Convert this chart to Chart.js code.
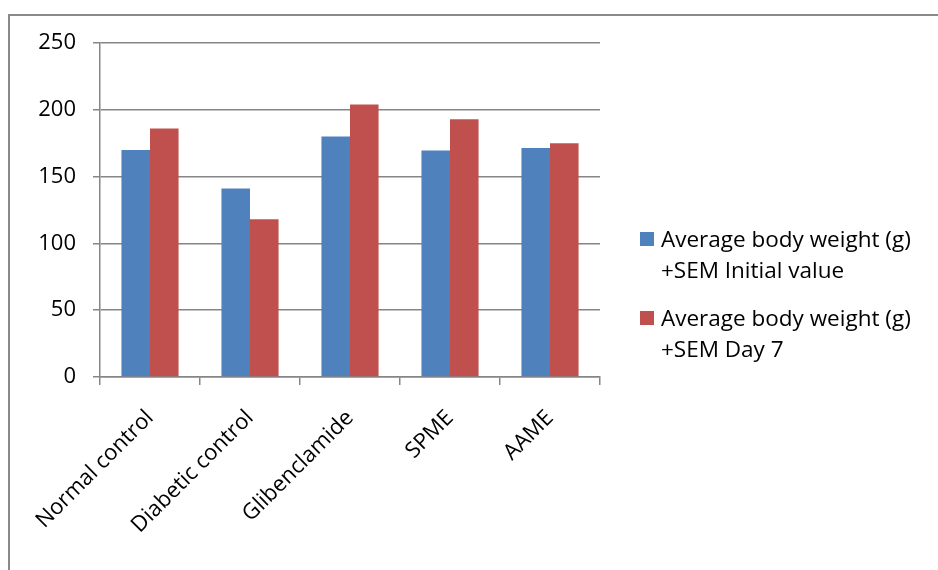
<!DOCTYPE html>
<html>
<head>
<meta charset="utf-8">
<title>Average body weight</title>
<script src="https://cdn.jsdelivr.net/npm/chart.js@4.4.1/dist/chart.umd.min.js"></script>
<style>
    html, body { margin: 0; padding: 0; background: #fff; }
    #wrap { width: 938px; height: 570px; position: relative; }
</style>
</head>
<body>
<div id="wrap"><canvas id="weightChart" width="938" height="570"></canvas></div>
<script>
// 数据
const groups = ['Normal control', 'Diabetic control', 'Glibenclamide', 'SPME', 'AAME'];
const initialValues = [170, 141, 180, 169.5, 171.5];
const day7Values = [186, 118, 204, 193, 175];
const seriesNames = [
    ['Average body weight (g)', '+SEM Initial value'],
    ['Average body weight (g)', '+SEM Day 7']
];
const yTicks = [0, 50, 100, 150, 200, 250];

const FONT = '"Open Sans", "Liberation Sans", sans-serif';
const GRID = '#868686';

// 外框
const framePlugin = {
    id: 'frame',
    beforeDraw(chart) {
        const ctx = chart.ctx;
        ctx.save();
        ctx.strokeStyle = '#8a8a8a';
        ctx.lineWidth = 2;
        ctx.beginPath();
        ctx.moveTo(9, chart.height);
        ctx.lineTo(9, 15);
        ctx.lineTo(chart.width, 15);
        ctx.stroke();
        ctx.restore();
    }
};

// 右侧图例（两行文字）
const legendPlugin = {
    id: 'sideLegend',
    afterDraw(chart) {
        const ctx = chart.ctx;
        ctx.save();
        ctx.font = '22.5px ' + FONT;
        ctx.textBaseline = 'alphabetic';
        ctx.textAlign = 'left';
        chart.data.datasets.forEach((ds, i) => {
            const top = 232 + i * 79;
            ctx.fillStyle = ds.backgroundColor;
            ctx.fillRect(640, top, 14, 14);
            ctx.fillStyle = '#000';
            ds.legendLines.forEach((line, j) => {
                ctx.fillText(line, 661, top + 15 + j * 31);
            });
        });
        ctx.restore();
    }
};

document.addEventListener('DOMContentLoaded', function() {
    initializeWeightChart();
});

function initializeWeightChart() {
    const ctx = document.getElementById('weightChart');

    const data = {
        labels: groups,
        datasets: [{
            label: seriesNames[0].join(' '),
            legendLines: seriesNames[0],
            data: initialValues,
            backgroundColor: '#4F81BD',
            categoryPercentage: 0.571,
            barPercentage: 1.0
        }, {
            label: seriesNames[1].join(' '),
            legendLines: seriesNames[1],
            data: day7Values,
            backgroundColor: '#C0504D',
            categoryPercentage: 0.571,
            barPercentage: 1.0
        }]
    };

    const config = {
        type: 'bar',
        data: data,
        options: {
            responsive: false,
            animation: false,
            layout: {
                padding: { left: 0, top: 43, right: 338, bottom: 0 }
            },
            plugins: {
                legend: { display: false },
                tooltip: { enabled: false }
            },
            scales: {
                x: {
                    offset: true,
                    afterFit(scale) { scale.height = 193; },
                    grid: {
                        offset: true,
                        drawOnChartArea: false,
                        drawTicks: true,
                        tickLength: 8,
                        color: GRID,
                        lineWidth: 1.5
                    },
                    border: { color: GRID, width: 1.5 },
                    ticks: {
                        autoSkip: false,
                        maxRotation: 45,
                        minRotation: 45,
                        padding: 20,
                        color: '#000',
                        font: { family: FONT, size: 22 }
                    }
                },
                y: {
                    min: 0,
                    max: 250,
                    afterFit(scale) { scale.width = 100; },
                    afterBuildTicks(scale) {
                        scale.ticks = yTicks.map(v => ({ value: v }));
                    },
                    grid: {
                        color: GRID,
                        lineWidth: 1.5,
                        drawTicks: true,
                        tickLength: 7
                    },
                    border: { color: GRID, width: 1.5 },
                    ticks: {
                        padding: 17,
                        color: '#000',
                        font: { family: FONT, size: 22 }
                    }
                }
            }
        },
        plugins: [framePlugin, legendPlugin]
    };

    new Chart(ctx, config);
}
</script>
</body>
</html>
